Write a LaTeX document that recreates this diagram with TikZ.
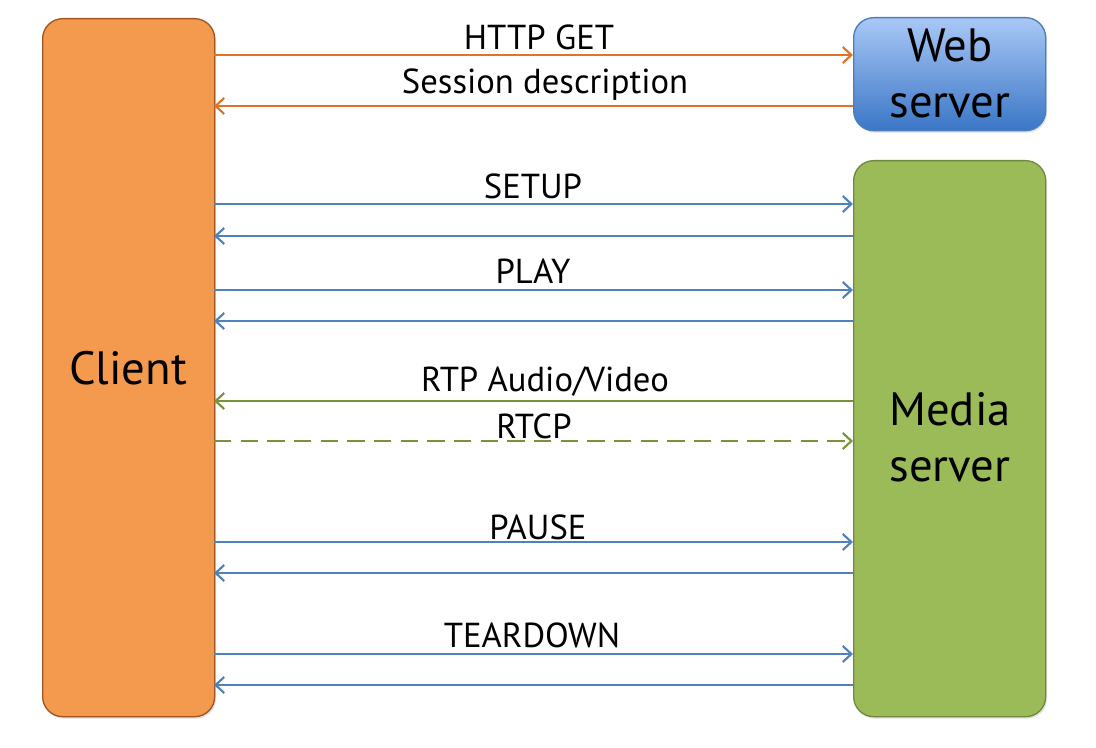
\documentclass[tikz,border=0pt]{standalone}
\usepackage{fontspec}
\setmainfont{PT Sans}
\usetikzlibrary{arrows.meta,shadows}
\definecolor{cfill}{HTML}{F49A4E}
\definecolor{cedge}{HTML}{A0561E}
\definecolor{gfill}{HTML}{9BBB59}
\definecolor{gedge}{HTML}{71893F}
\definecolor{wtop}{HTML}{A9C8F6}
\definecolor{wbot}{HTML}{3A76C6}
\definecolor{wedge}{HTML}{4A7EBB}
\definecolor{oarr}{HTML}{DF7428}
\definecolor{barr}{HTML}{4F81BD}
\definecolor{garr}{HTML}{77933C}
\tikzset{
  box/.style={rounded corners=20pt*0.75, line width=1pt, drop shadow={shadow xshift=1pt, shadow yshift=-1.5pt, opacity=0.25}},
  msg/.style={line width=1.7pt, -{Straight Barb[length=6.5pt,width=12pt,line width=1.6pt]}},
  lbl/.style={font=\fontsize{26}{30}\selectfont, inner sep=0pt},
  big/.style={font=\fontsize{35}{42}\selectfont, align=center, inner sep=0pt}
}
\begin{document}
\begin{tikzpicture}[x=0.75pt,y=-0.75pt]
\useasboundingbox (0,0) rectangle (1096,748);
% boxes
\node[box, draw=cedge, fill=cfill, minimum width=172*0.75pt, minimum height=698*0.75pt, anchor=north west] (client) at (42,18) {};
\node[box, draw=wedge, top color=wtop, bottom color=wbot, minimum width=192*0.75pt, minimum height=113*0.75pt, anchor=north west] (web) at (853,17) {};
\node[box, draw=gedge, fill=gfill, minimum width=192*0.75pt, minimum height=556*0.75pt, anchor=north west] (media) at (853,160) {};
\node[big] (clientlbl) at (128,368) {Client};
\node[big] (weblbl) at (950,73) {Web\\server};
\node[big] (medialbl) at (950,437) {Media\\server};
% coordinates on box edges
\foreach \n/\y in {a/55,b/106,c/204,d/236,e/290,f/321,g/401,h/441,i/542,j/573,k/654,l/685}{
  \coordinate (L\n) at (214,\y);
  \coordinate (R\n) at (853,\y);
}
\draw[msg, oarr] (La) -- (Ra);
\draw[msg, oarr] (Rb) -- (Lb);
\draw[msg, barr] (Lc) -- (Rc);
\draw[msg, barr] (Rd) -- (Ld);
\draw[msg, barr] (Le) -- (Re);
\draw[msg, barr] (Rf) -- (Lf);
\draw[msg, garr] (Rg) -- (Lg);
\draw[msg, garr, dash pattern=on 13pt off 7pt] (Lh) -- (Rh);
\draw[msg, barr] (Li) -- (Ri);
\draw[msg, barr] (Rj) -- (Lj);
\draw[msg, barr] (Lk) -- (Rk);
\draw[msg, barr] (Rl) -- (Ll);
% labels
\node[lbl] (t1) at (539,37) {HTTP GET};
\node[lbl] (t2) at (545,85) {Session description};
\node[lbl] (t3) at (533,186) {SETUP};
\node[lbl] (t4) at (533,271) {PLAY};
\node[lbl] (t5) at (545,382) {RTP Audio/Video};
\node[lbl] (t6) at (534,426) {RTCP};
\node[lbl] (t7) at (538,527) {PAUSE};
\node[lbl] (t8) at (532,635) {TEARDOWN};
\end{tikzpicture}
\end{document}
